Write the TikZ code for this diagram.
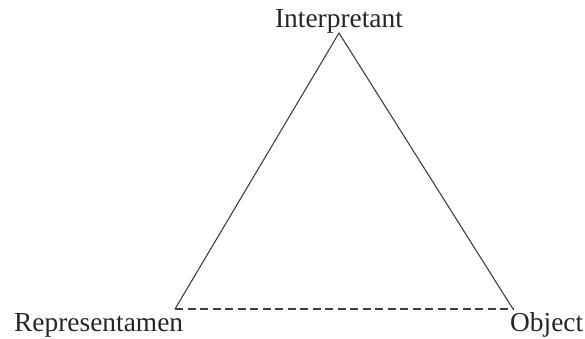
\documentclass[tikz,border=0pt]{standalone}
\usepackage{fontspec}
\setmainfont{Liberation Serif}
\begin{document}
\begin{tikzpicture}[x=1pt,y=1pt,
  lbl/.style={inner sep=0pt,font=\fontsize{27.4}{30}\selectfont,text=black!85},
  side/.style={line width=1.1pt,draw=black!75},
  dashside/.style={side,dash pattern=on 8pt off 4.5pt}]
\useasboundingbox (0,0) rectangle (585,338);
\coordinate (I) at (339,305);
\coordinate (R) at (175,29);
\coordinate (O) at (513,29);
\node[lbl,anchor=base] (ti) at (339,310) {Interpretant};
\node[lbl,anchor=base west] (tr) at (14,7) {Representamen};
\node[lbl,anchor=base west] (to) at (510,7) {Object};
\draw[side] (R) -- (I) -- (O);
\draw[dashside] (R) -- (O);
\end{tikzpicture}
\end{document}
